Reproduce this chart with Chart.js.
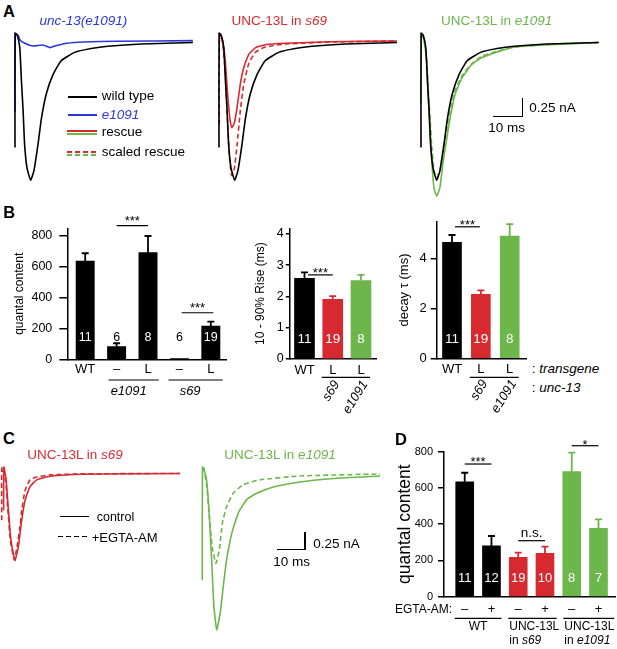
<!DOCTYPE html>
<html><head><meta charset="utf-8">
<script src="https://cdn.jsdelivr.net/npm/chart.js@4.4.1/dist/chart.umd.min.js"></script>
<style>
html,body{margin:0;padding:0;background:#fff;}
#root{position:relative;width:617px;height:649px;overflow:hidden;font-family:"Liberation Sans",Arial,Helvetica,sans-serif;color:#000;}
.abs{position:absolute;white-space:nowrap;line-height:1;}
</style></head><body><div id="root"></div>
<script>
// ================= DATA =================
// Panel A traces: time (ms) and current (nA)
const wtTime = [0, 0.05, 0.8, 1.6, 2.1, 2.7, 3.2, 4.0, 5.2, 6.3, 7.7, 8.8, 10.4, 12.7, 15.4, 19.9, 25.4, 31, 42.1, 59.3];
const wtCurr = [-1.40, 0.10, 0.07, -0.09, -0.49, -0.92, -1.36, -1.67, -1.83, -1.71, -1.35, -1.02, -0.70, -0.44, -0.26, -0.15, -0.10, -0.07, -0.04, -0.02];
const e1091Time = [0, 0.05, 1.1, 1.7, 3.3, 6.0, 9.3, 11.7, 13.3, 17.3, 22.7, 34, 59.3];
const e1091Curr = [-0.93, 0.10, 0.07, 0.01, -0.03, -0.066, -0.053, -0.088, -0.066, -0.03, -0.013, -0.004, 0.004];
const s69RescueTime = [0.3, 1.2, 2.1, 2.9, 3.6, 4.3, 5.1, 6.0, 7.1, 8.2, 9.9, 12.1, 15.4, 22, 36.7, 59.3];
const s69RescueCurr = [0.10, 0.0, -0.27, -0.71, -1.01, -1.14, -1.08, -0.88, -0.57, -0.36, -0.18, -0.09, -0.05, -0.03, -0.01, 0.0];
const s69ScaledTime = [0.1, 0.15, 1.2, 2.1, 2.9, 3.6, 4.2, 5.1, 6.0, 7.1, 8.2, 9.9, 12.1, 15.4, 22, 36.7, 59.3];
const s69ScaledCurr = [-1.10, 0.10, -0.02, -0.42, -1.10, -1.58, -1.77, -1.68, -1.38, -0.92, -0.58, -0.30, -0.15, -0.08, -0.04, -0.015, 0.0];
const e1091RescueTime = [0, 0.05, 0.8, 1.9, 2.4, 3.0, 3.6, 4.3, 5.2, 6.3, 7.4, 8.6, 9.7, 11.3, 13.6, 16.9, 20.2, 25.8, 31.3, 42.4, 59.1];
const e1091RescueCurr = [-0.82, 0.10, 0.05, -0.27, -0.71, -1.14, -1.58, -1.93, -2.04, -1.93, -1.58, -1.28, -1.01, -0.71, -0.49, -0.31, -0.22, -0.14, -0.08, -0.05, -0.02];
const e1091ScaledTime = [0.3, 1.0, 1.9, 2.4, 3.0, 3.6, 4.3, 5.2, 6.3, 7.4, 8.6, 9.7, 11.3, 13.6, 16.9, 20.2, 25.8, 31.3, 42.4, 59.1];
const e1091ScaledCurr = [0.08, 0.02, -0.24, -0.62, -1.00, -1.39, -1.70, -1.80, -1.70, -1.41, -1.15, -0.92, -0.66, -0.46, -0.30, -0.20, -0.13, -0.08, -0.045, -0.02];

// Panel B
const qcLabels = ['WT', '–', 'L', '–', 'L'];
const qcMean = [638, 82, 692, 4, 216];
const qcSem = [50, 22, 108, 0, 28];
const qcN = [11, 6, 8, 6, 19];
const riseLabels = ['WT', 'L', 'L'];
const riseMean = [2.58, 1.91, 2.51];
const riseSem = [0.19, 0.10, 0.18];
const riseN = [11, 19, 8];
const decayLabels = ['WT', 'L', 'L'];
const decayMean = [4.66, 2.57, 4.91];
const decaySem = [0.29, 0.16, 0.48];
const decayN = [11, 19, 8];

// Panel C traces: time (ms) and current (nA)
const cS69CtrlTime = [0.1, 0.2, 1.0, 1.8, 2.7, 4.1, 5.3, 6.5, 7.7, 9.4, 11.8, 16.5, 28.3, 62.4];
const cS69CtrlCurr = [-0.52, 0.09, -0.09, -0.52, -0.94, -1.23, -1.04, -0.66, -0.38, -0.19, -0.09, -0.04, -0.01, 0.0];
const cS69EgtaTime = [-0.55, -0.5, 0.8, 1.6, 2.5, 3.9, 5.0, 6.0, 6.5, 7.7, 9.4, 11.8, 16.5, 28.3, 62.4];
const cS69EgtaCurr = [-0.66, 0.09, -0.10, -0.50, -0.95, -1.22, -1.00, -0.72, -0.52, -0.24, -0.09, -0.05, -0.02, -0.005, 0.0];
const cE1091CtrlTime = [0, 0.05, 0.6, 1.5, 2.5, 3.3, 4.1, 5.1, 6.3, 7.4, 8.6, 10.4, 12.7, 15.7, 19.2, 25.1, 34.5, 46.3, 62.8];
const cE1091CtrlCurr = [-1.51, 0.09, 0.05, -0.09, -0.61, -1.22, -1.88, -2.21, -1.98, -1.60, -1.22, -0.85, -0.56, -0.37, -0.28, -0.19, -0.12, -0.07, -0.035];
const cE1091EgtaTime = [0.5, 1.6, 2.5, 3.5, 4.8, 6.0, 7.1, 8.6, 10.9, 14.4, 20.3, 34.5, 62.8];
const cE1091EgtaCurr = [0.09, -0.19, -0.61, -1.04, -1.27, -1.08, -0.70, -0.47, -0.28, -0.16, -0.09, -0.035, -0.007];

// Panel D
const egtaLabels = ['–', '+', '–', '+', '–', '+'];
const egtaMean = [634, 280, 217, 239, 690, 377];
const egtaSem = [50, 55, 26, 37, 105, 50];
const egtaN = [11, 12, 19, 10, 8, 7];

// ================= STYLE =================
const FONT = '"Liberation Sans", Arial, Helvetica, sans-serif';
const BLACK = '#000000', RED = '#d62a30', GREEN = '#6cb64b', BLUE = '#2a37d8';
Chart.defaults.font.family = FONT;
Chart.defaults.color = '#000';

const root = document.getElementById('root');
function label(x, y, html, o = {}) {
  const d = document.createElement('div'); d.className = 'abs';
  d.style.left = x + 'px'; d.style.top = y + 'px';
  d.style.fontSize = (o.size || 13) + 'px'; d.style.color = o.color || '#000';
  if (o.bold) d.style.fontWeight = 'bold';
  if (o.italic) d.style.fontStyle = 'italic';
  d.style.transform = o.align === 'center' ? 'translate(-50%,-50%)' : (o.align === 'right' ? 'translate(-100%,-50%)' : 'translateY(-50%)');
  d.innerHTML = html; root.appendChild(d);
}
function rect(x, y, w, h, color) {
  const d = document.createElement('div');
  d.style.cssText = `position:absolute;left:${x}px;top:${y}px;width:${w}px;height:${h}px;background:${color};`;
  root.appendChild(d);
}
function dash(x, y, w, h, color) {
  const d = document.createElement('div');
  d.style.cssText = `position:absolute;left:${x}px;top:${y}px;width:${w}px;height:${h}px;background:repeating-linear-gradient(to right, ${color} 0 5px, transparent 5px 8px);`;
  root.appendChild(d);
}
function box(x, y, w, h) {
  const d = document.createElement('div');
  d.style.cssText = `position:absolute;left:${x}px;top:${y}px;width:${w}px;height:${h}px;`;
  const c = document.createElement('canvas'); d.appendChild(c); root.appendChild(d); return c;
}
const pts = (t, v) => t.map((x, i) => ({x, y: v[i]}));

function traces(x, y, w, h, xr, yr, sets) {
  new Chart(box(x, y, w, h), {
    type: 'line',
    data: { datasets: sets.map(s => ({
      data: pts(s.t, s.v), borderColor: s.c, borderWidth: 1.6,
      borderDash: s.dash ? [5, 3] : [], tension: 0.15, pointRadius: 0, fill: false })) },
    options: {
      responsive: true, maintainAspectRatio: false, animation: false, events: [],
      layout: { padding: 0 },
      plugins: { legend: { display: false }, tooltip: { enabled: false } },
      scales: {
        x: { type: 'linear', display: false, min: xr[0], max: xr[1] },
        y: { type: 'linear', display: false, min: yr[0], max: yr[1] }
      }
    }
  });
}

const decorPlugin = {
  id: 'decor',
  afterDatasetsDraw(chart, args, o) {
    if (!o || !o.mean) return;
    const ctx = chart.ctx, xs = chart.scales.x, ys = chart.scales.y;
    const X = i => xs.getPixelForValue(i);
    const base = ys.getPixelForValue(0);
    ctx.save();
    // error bars
    o.mean.forEach((m, i) => {
      const s = o.sem[i]; if (!s) return;
      const x = X(i), y0 = ys.getPixelForValue(m), y1 = ys.getPixelForValue(m + s);
      ctx.strokeStyle = o.colors[i]; ctx.lineWidth = 1.8;
      ctx.beginPath(); ctx.moveTo(x, y0); ctx.lineTo(x, y1);
      ctx.moveTo(x - o.cap, y1); ctx.lineTo(x + o.cap, y1); ctx.stroke();
    });
    // n labels
    ctx.font = `${o.nSize}px ${FONT}`; ctx.textAlign = 'center'; ctx.textBaseline = 'middle';
    o.n.forEach((n, i) => {
      const y = base - o.nUp, top = ys.getPixelForValue(o.mean[i]);
      ctx.fillStyle = top < y - 8 ? '#fff' : '#000';
      ctx.fillText(String(n), X(i), y);
    });
    // significance
    ctx.fillStyle = '#000'; ctx.strokeStyle = '#000';
    (o.sig || []).forEach(s => {
      const y = ys.getPixelForValue(s.v);
      const x1 = X(s.a) + (s.dx1 || 0), x2 = X(s.b) + (s.dx2 || 0);
      ctx.lineWidth = 1.2;
      ctx.beginPath(); ctx.moveTo(x1, y); ctx.lineTo(x2, y); ctx.stroke();
      ctx.font = `${s.size || 13}px ${FONT}`; ctx.textAlign = 'center'; ctx.textBaseline = 'alphabetic';
      ctx.fillText(s.text, (x1 + x2) / 2, y - s.up);
    });
    // groups
    (o.groups || []).forEach(g => {
      const x1 = X(g.a) + g.dx1, x2 = X(g.b) + g.dx2, y = base + g.lineY;
      ctx.lineWidth = 1.2;
      ctx.beginPath(); ctx.moveTo(x1, y); ctx.lineTo(x2, y); ctx.stroke();
      const f = it => `${it ? 'italic ' : ''}${o.gSize}px ${FONT}`;
      (g.lines || []).forEach((segs, k) => {
        const yy = base + g.textY + k * (g.lineH || 14);
        let w = 0; segs.forEach(sg => { ctx.font = f(sg[1]); w += ctx.measureText(sg[0]).width; });
        let xx = g.align === 'center' ? (x1 + x2) / 2 + (g.tdx || 0) - w / 2 : x1 + (g.tdx || 0);
        ctx.textAlign = 'left'; ctx.textBaseline = 'middle';
        segs.forEach(sg => { ctx.font = f(sg[1]); ctx.fillText(sg[0], xx, yy); xx += ctx.measureText(sg[0]).width; });
      });
      (g.rot || []).forEach((t, k) => {
        ctx.save();
        ctx.translate(X(g.a + k) + g.rdx, base + g.rdy);
        ctx.rotate(-g.angle * Math.PI / 180);
        ctx.font = f(true); ctx.textAlign = 'right'; ctx.textBaseline = 'middle';
        ctx.fillText(t, 0, 0);
        ctx.restore();
      });
    });
    ctx.restore();
  }
};

function bars(cfg) {
  new Chart(box(cfg.box[0], cfg.box[1], cfg.box[2], cfg.box[3]), {
    type: 'bar',
    data: { datasets: [{ data: cfg.mean.map((v, i) => ({x: i, y: v})), backgroundColor: cfg.colors, barThickness: cfg.bt, borderWidth: 0 }] },
    options: {
      responsive: true, maintainAspectRatio: false, animation: false, events: [],
      layout: { padding: cfg.pad },
      plugins: { legend: { display: false }, tooltip: { enabled: false }, decor: cfg.decor },
      scales: {
        x: {
          type: 'linear', offset: false, min: cfg.xr[0], max: cfg.xr[1],
          afterFit: s => { s.height = cfg.xh; },
          afterBuildTicks: s => { s.ticks = cfg.labels.map((_, i) => ({value: i})); },
          ticks: { autoSkip: false, maxRotation: 0, minRotation: 0, color: '#000', font: { size: 13 }, padding: cfg.xpad,
                   callback: v => cfg.labels[Math.round(v)] },
          grid: { display: false, drawTicks: false },
          border: { display: true, color: '#000', width: 1.5 }
        },
        y: {
          type: 'linear', min: 0, max: cfg.ymax, bounds: 'data',
          afterFit: s => { s.width = cfg.yw; },
          afterBuildTicks: s => {
            s.ticks = s.ticks.filter(t => Math.abs(t.value / cfg.step - Math.round(t.value / cfg.step)) < 1e-6);
          },
          ticks: { stepSize: cfg.step, includeBounds: false, color: '#000', font: { size: cfg.tickSize }, padding: cfg.tpad },
          grid: { display: true, drawOnChartArea: false, drawTicks: true, tickLength: cfg.tl, color: '#000', tickColor: '#000', lineWidth: 1.5 },
          border: { display: true, color: '#000', width: 1.5 },
          title: { display: true, text: cfg.title, color: '#000', font: { size: cfg.titleSize }, padding: { top: cfg.titlePad, bottom: 0 } }
        }
      }
    },
    plugins: [decorPlugin]
  });
}

// ================= PANEL A =================
const aX = [-1, 60.333], aY = [-2.171, 0.197];
traces(12, 26, 184, 180, aX, aY, [
  {t: wtTime, v: wtCurr, c: BLACK},
  {t: e1091Time, v: e1091Curr, c: BLUE}
]);
traces(216, 26, 184, 180, aX, aY, [
  {t: wtTime, v: wtCurr, c: BLACK},
  {t: s69RescueTime, v: s69RescueCurr, c: RED},
  {t: s69ScaledTime, v: s69ScaledCurr, c: RED, dash: true}
]);
traces(418, 26, 184, 180, aX, aY, [
  {t: wtTime, v: wtCurr, c: BLACK},
  {t: e1091RescueTime, v: e1091RescueCurr, c: GREEN},
  {t: e1091ScaledTime, v: e1091ScaledCurr, c: GREEN, dash: true}
]);
label(3, 11, 'A', {size: 16.5, bold: true});
label(83.3, 20.7, 'unc-13(e1091)', {size: 13.5, italic: true, color: BLUE, align: 'center'});
label(279.2, 20.7, 'UNC-13L in <i>s69</i>', {size: 13.5, color: RED, align: 'center'});
label(496.7, 20.7, 'UNC-13L in <i>e1091</i>', {size: 13.5, color: GREEN, align: 'center'});
// legend
rect(68.3, 95.9, 28.4, 1.8, BLACK); label(101.7, 95.7, 'wild type', {size: 13.5});
rect(68.3, 114.2, 28.4, 1.8, BLUE); label(101.7, 115, 'e1091', {size: 13.5, italic: true, color: BLUE});
rect(66.7, 129.8, 30.6, 2, RED); rect(66.7, 133, 30.6, 2, GREEN); label(101.7, 131.7, 'rescue', {size: 13.5});
dash(66.7, 150.6, 30.6, 2, RED); dash(66.7, 153.8, 30.6, 2, GREEN); label(101.7, 152.3, 'scaled rescue', {size: 13.5});
// scale bar
rect(521.9, 98.3, 1.6, 19.2, BLACK); rect(492.7, 115.9, 30.8, 1.6, BLACK);
label(529.3, 108.3, '0.25 nA', {size: 13.5}); label(506.7, 128.3, '10 ms', {size: 13.5, align: 'center'});

// ================= PANEL B =================
label(3.3, 211.7, 'B', {size: 16.5, bold: true});
bars({
  box: [0, 212, 240, 203], pad: {top: 16.3, right: 13.3, bottom: 0, left: 0},
  mean: qcMean, labels: qcLabels, colors: qcMean.map(() => BLACK), bt: 18.3,
  xr: [-0.57, 4.506], xh: 55.7, xpad: 2.2,
  ymax: 850, step: 200, yw: 67.3, tickSize: 12.5, tl: 8, tpad: 7,
  title: 'quantal content', titleSize: 12, titlePad: 12.8,
  decor: {
    mean: qcMean, sem: qcSem, n: qcN, colors: qcMean.map(() => BLACK), cap: 3.5, nUp: 22, nSize: 12.5, gSize: 13,
    sig: [{a: 1, b: 2, text: '***', v: 867, up: 1, size: 13}, {a: 3, b: 4, text: '***', v: 302, dx1: 2.3, dx2: 2.5, up: 1, size: 13}],
    groups: [
      {a: 1, b: 2, dx1: -8, dx2: 10.8, lineY: 20.7, textY: 31.7, align: 'center', tdx: -5, lines: [[['e1091', true]]]},
      {a: 3, b: 4, dx1: -10.9, dx2: 11.9, lineY: 20.7, textY: 31.7, align: 'center', tdx: -5.5, lines: [[['s69', true]]]}
    ]
  }
});
bars({
  box: [245, 212, 140, 203], pad: {top: 16.3, right: 8.3, bottom: 0, left: 0},
  mean: riseMean, labels: riseLabels, colors: [BLACK, RED, GREEN], bt: 20,
  xr: [-0.538, 2.556], xh: 56, xpad: 3.2,
  ymax: 4.18, step: 1, yw: 44.3, tickSize: 12.5, tl: 3.5, tpad: 2,
  title: '10 - 90% Rise (ms)', titleSize: 12, titlePad: 8.8,
  decor: {
    mean: riseMean, sem: riseSem, n: riseN, colors: [BLACK, RED, GREEN], cap: 3.5, nUp: 20, nSize: 13.5, gSize: 13,
    sig: [{a: 0, b: 1, text: '***', v: 2.69, dx1: 3.5, dx2: 0, up: -2.4, size: 13}],
    groups: [{a: 1, b: 2, dx1: -11, dx2: 9, lineY: 18.3, rot: ['s69', 'e1091'], rdx: 4, rdy: 23, angle: 58}]
  }
});
bars({
  box: [390, 210, 140, 205], pad: {top: 10, right: 3.3, bottom: 0, left: 0},
  mean: decayMean, labels: decayLabels, colors: [BLACK, RED, GREEN], bt: 19,
  xr: [-0.53, 2.589], xh: 56.7, xpad: 2.9,
  ymax: 5.48, step: 2, yw: 46.7, tickSize: 13, tl: 6, tpad: 4,
  title: 'decay τ (ms)', titleSize: 13, titlePad: 6.2,
  decor: {
    mean: decayMean, sem: decaySem, n: decayN, colors: [BLACK, RED, GREEN], cap: 3.5, nUp: 19.3, nSize: 13.5, gSize: 13,
    sig: [{a: 0, b: 1, text: '***', v: 5.28, dx1: 3, dx2: -1, up: -2.4, size: 13}],
    groups: [{a: 1, b: 2, dx1: -11, dx2: 9, lineY: 19, rot: ['s69', 'e1091'], rdx: 4, rdy: 23, angle: 58}]
  }
});
label(531.7, 368.5, ': <i>transgene</i>', {size: 13.5});
label(531.7, 388.3, ': <i>unc-13</i>', {size: 13.5});

// ================= PANEL C =================
label(3, 437.5, 'C', {size: 16.5, bold: true});
const cY = [-2.426, 0.205];
traces(0, 459, 185, 186, [-1.166, 64.2], cY, [
  {t: cS69CtrlTime, v: cS69CtrlCurr, c: RED},
  {t: cS69EgtaTime, v: cS69EgtaCurr, c: RED, dash: true}
]);
traces(200, 459, 185, 186, [-0.813, 64.56], cY, [
  {t: cE1091CtrlTime, v: cE1091CtrlCurr, c: GREEN},
  {t: cE1091EgtaTime, v: cE1091EgtaCurr, c: GREEN, dash: true}
]);
label(75, 455, 'UNC-13L in <i>s69</i>', {size: 13.5, color: RED, align: 'center'});
label(280, 455, 'UNC-13L in <i>e1091</i>', {size: 13.5, color: GREEN, align: 'center'});
rect(60, 515.9, 29.3, 1.6, BLACK); label(96.7, 516.7, 'control', {size: 12.5});
dash(58.3, 535.9, 31, 1.6, BLACK); label(91.7, 536.7, '+EGTA-AM', {size: 13});
rect(304.2, 531.7, 1.6, 18.4, BLACK); rect(276.7, 548.5, 29.1, 1.6, BLACK);
label(313.3, 544, '0.25 nA', {size: 13.5}); label(291.7, 561.7, '10 ms', {size: 13.5, align: 'center'});

// ================= PANEL D =================
label(395, 439, 'D', {size: 16.5, bold: true});
const egtaColors = [BLACK, BLACK, RED, RED, GREEN, GREEN];
bars({
  box: [380, 432, 237, 217], pad: {top: 19.7, right: 2, bottom: 0, left: 0},
  mean: egtaMean, labels: egtaLabels, colors: egtaColors, bt: 18,
  xr: [-0.774, 5.617], xh: 52.3, xpad: 4.5,
  ymax: 800, step: 200, yw: 64, tickSize: 11, tl: 6, tpad: 5,
  title: 'quantal content', titleSize: 17.5, titlePad: 14.5,
  decor: {
    mean: egtaMean, sem: egtaSem, n: egtaN, colors: egtaColors, cap: 3.5, nUp: 18.4, nSize: 13, gSize: 12,
    sig: [
      {a: 0, b: 1, text: '***', v: 732, up: -2.4, size: 13},
      {a: 2, b: 3, text: 'n.s.', v: 309, up: 3.3, size: 13.5},
      {a: 4, b: 5, text: '*', v: 833, up: -3.4, size: 13}
    ],
    groups: [
      {a: 0, b: 1, dx1: -10, dx2: 10, lineY: 21.6, textY: 30, lineH: 14, align: 'center', lines: [[['WT', false]]]},
      {a: 2, b: 3, dx1: -10, dx2: 11.7, lineY: 21.6, textY: 30, lineH: 14, align: 'left', tdx: 1, lines: [[['UNC-13L', false]], [['in ', false], ['s69', true]]]},
      {a: 4, b: 5, dx1: -8.4, dx2: 15.8, lineY: 21.6, textY: 30, lineH: 14, align: 'left', tdx: 1, lines: [[['UNC-13L', false]], [['in ', false], ['e1091', true]]]}
    ]
  }
});
label(395, 609, 'EGTA-AM:', {size: 12});
</script>
</body></html>
